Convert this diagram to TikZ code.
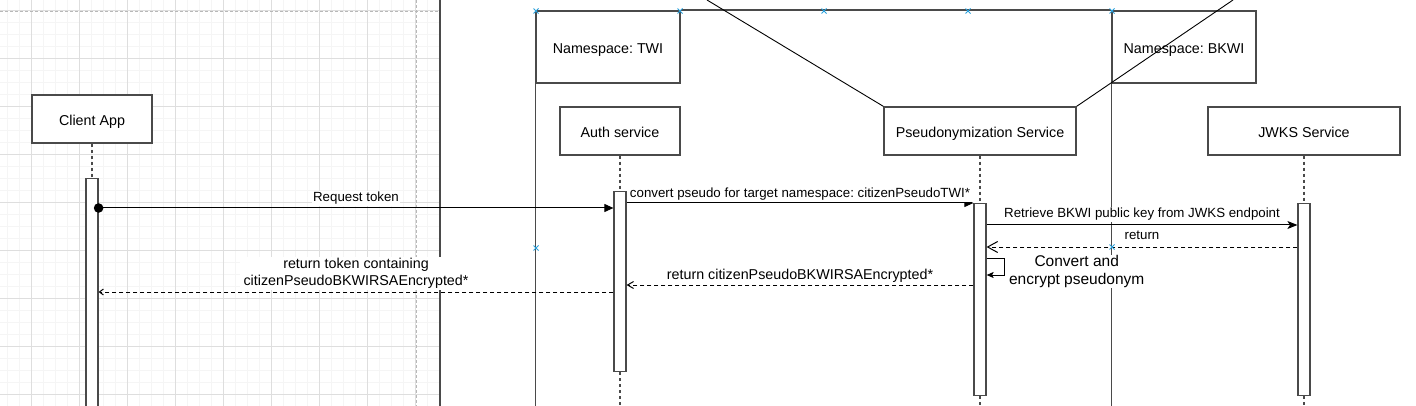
\documentclass[tikz,border=0pt]{standalone}
\usepackage{fontspec}
\setmainfont{Liberation Sans}
\usetikzlibrary{arrows.meta}
\definecolor{boxgray}{HTML}{4A4A4A}
\definecolor{gridmajor}{HTML}{DEDEDE}
\definecolor{gridminor}{HTML}{F5F5F5}
\definecolor{dashgray}{HTML}{B8B8B8}
\definecolor{markblue}{HTML}{2AA0DC}
\frenchspacing
\begin{document}
\begin{tikzpicture}[x=1pt,y=-1pt,
  actor/.style={draw=boxgray, line width=1.3pt, fill=white, inner sep=0pt, minimum height=48pt, text height=13pt, text depth=0.4pt, font=\fontsize{14.3}{17}\selectfont},
  ns/.style={draw=boxgray, line width=1.5pt, fill=white, inner sep=0pt, minimum width=144pt, minimum height=72pt, text height=13pt, text depth=0.4pt, font=\fontsize{14.3}{17}\selectfont},
  act/.style={draw=boxgray, line width=1.2pt, fill=white, inner sep=0pt, minimum width=12pt, anchor=north},
  life/.style={draw=boxgray, line width=1.2pt, dash pattern=on 3pt off 3pt},
  frameline/.style={draw=boxgray, line width=1.5pt},
  msg/.style={draw=black, line width=1pt},
  ret/.style={msg, dash pattern=on 4pt off 3pt},
  lbl/.style={fill=white, inner sep=1pt, font=\fontsize{13.3}{17}\selectfont},
  lblbig/.style={lbl, font=\fontsize{14.3}{17}\selectfont},
  bluex/.pic={\draw[markblue, line width=1pt] (-2.5,-2.5) -- (2.5,2.5) (-2.5,2.5) -- (2.5,-2.5);}
]
\useasboundingbox (0,0) rectangle (1416,406);
\clip (0,0) rectangle (1416,406);
\fill[white] (0,0) rectangle (1416,406);
% grid background
\begin{scope}
  \clip (0,0) rectangle (440,406);
  \foreach \i in {0,...,36} \draw[gridminor, line width=0.7pt] (7+12*\i,0) -- (7+12*\i,406);
  \foreach \i in {0,...,34} \draw[gridminor, line width=0.7pt] (0,-2+12*\i) -- (440,-2+12*\i);
  \foreach \i in {0,...,8} \draw[gridmajor, line width=0.9pt] (31+48*\i,0) -- (31+48*\i,406);
  \foreach \i in {0,...,8} \draw[gridmajor, line width=0.9pt] (0,10+48*\i) -- (440,10+48*\i);
\end{scope}
\draw[dashgray, line width=0.9pt, dash pattern=on 3pt off 2pt] (0,11) -- (440,11) (416,0) -- (416,406);
\draw[boxgray, line width=1.8pt] (440,0) -- (440,406);

\coordinate (bottom) at (0,406);
% namespaces
\node[ns] (nsTWI) at (608,47) {Namespace: TWI};
\node[ns] (nsBKWI) at (1184,47) {Namespace: BKWI};
\draw[frameline] (nsTWI.north east) -- (nsBKWI.north west);
\draw[frameline] (nsTWI.south west) -- (nsTWI.south west |- bottom);
\draw[frameline] (nsBKWI.south west) -- (nsBKWI.south west |- bottom);

% actors
\node[actor, minimum width=120pt] (client) at (92,119) {Client App};
\node[actor, minimum width=120pt] (auth) at (620,131) {Auth service};
\node[actor, minimum width=192pt] (pseudo) at (980,131) {Pseudonymization Service};
\node[actor, minimum width=192pt] (jwks) at (1304,131) {JWKS Service};

% diagonal lines
\coordinate (d1) at (707,0);
\coordinate (d2) at (1233,0);
\draw[black, line width=0.9pt] (pseudo.north west) -- (d1);
\draw[black, line width=0.9pt] (pseudo.north east) -- (d2);

% activations
\node[act, minimum height=240pt] (actC) at (92,178) {};
\node[act, minimum height=180pt] (actA) at (620,191) {};
\node[act, minimum height=192pt] (actP) at (980,203) {};
\node[act, minimum height=192pt] (actJ) at (1304,203) {};

% lifelines
\draw[life] (client.south) -- (actC.north);
\draw[life] (auth.south) -- (actA.north);
\draw[life] (actA.south) -- (actA.south |- bottom);
\draw[life] (pseudo.south) -- (actP.north);
\draw[life] (actP.south) -- (actP.south |- bottom);
\draw[life] (jwks.south) -- (actJ.north);
\draw[life] (actJ.south) -- (actJ.south |- bottom);

% message levels
\coordinate (yReq) at (0,208);
\coordinate (yConv) at (0,203);
\coordinate (yRet) at (0,225);
\coordinate (yBack) at (0,247);
\coordinate (ySelfA) at (0,258);
\coordinate (ySelfB) at (0,275);
\coordinate (yEnc) at (0,285);
\coordinate (yTok) at (0,292);

% messages
\draw[msg, -{Triangle[length=9pt,width=8pt]}] (actC.east |- yReq) -- node[lbl, midway, anchor=base, yshift=6pt] {Request token} (actA.west |- yReq);
\fill[black] (actC.east |- yReq) circle (4.8pt);

\draw[msg, -{Triangle[length=9pt,width=8pt]}] (actA.east |- yConv) -- node[lbl, midway, anchor=base, yshift=5pt] {convert pseudo for target namespace: citizenPseudoTWI*} (actP.west |- yConv);

\draw[msg, -{Stealth[length=10pt,width=8pt,inset=2.5pt]}] (actP.east |- yRet) -- node[lbl, midway, anchor=base, yshift=7pt] {Retrieve BKWI public key from JWKS endpoint} (actJ.west |- yRet);

\draw[ret, -{Straight Barb[length=10pt,width=11pt]}] (actJ.west |- yBack) -- node[lbl, midway, anchor=base, yshift=7pt] {return} (actP.east |- yBack);

\draw[msg, -{Stealth[length=7pt,width=6pt,inset=1.5pt]}] (actP.east |- ySelfA) -- ++(18,0) -- ++(0,17)
  node[midway, anchor=west, xshift=2pt, yshift=-5pt, fill=white, inner xsep=2pt, inner ysep=1pt, align=center, font=\fontsize{15.5}{17.5}\selectfont] {Convert and\\encrypt pseudonym}
  -- (actP.east |- ySelfB);

\draw[ret, -{Straight Barb[length=6pt,width=7pt]}] (actP.west |- yEnc) -- node[lblbig, midway, anchor=base, yshift=6pt] {return citizenPseudoBKWIRSAEncrypted*} (actA.east |- yEnc);

\draw[ret, -{Straight Barb[length=4pt,width=6pt]}] (actA.west |- yTok) -- node[lblbig, midway, anchor=south, yshift=2pt, inner xsep=4pt, align=center] {return token containing\\citizenPseudoBKWIRSAEncrypted*} (actC.east |- yTok);

% connection markers
\foreach \p in {(536,11),(680,11),(824,11),(968,11),(1112,11),(536,248),(1112,247)}
  \pic at \p {bluex};
\end{tikzpicture}
\end{document}
